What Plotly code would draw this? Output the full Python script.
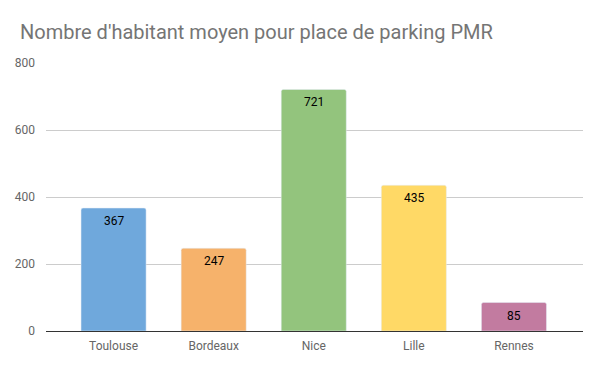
import plotly.graph_objects as go

cities = ["Toulouse", "Bordeaux", "Nice", "Lille", "Rennes"]
values = [367, 247, 721, 435, 85]
colors = ["#6fa8dc", "#f6b26b", "#93c47d", "#ffd966", "#c27ba0"]
y_ticks = [0, 200, 400, 600, 800]

fig = go.Figure(go.Bar(
    x=cities, y=values, marker_color=colors, width=0.65,
    hoverinfo="x+y",
))
for c, v in zip(cities, values):
    fig.add_annotation(x=c, y=v, text=str(v), showarrow=False, yanchor="top",
                       yshift=-4, font=dict(color="#000000", size=12, family="Roboto"))
fig.update_layout(
    width=600, height=371,
    margin=dict(l=46, r=17, t=63, b=40),
    paper_bgcolor="white", plot_bgcolor="white",
    font=dict(family="Roboto", color="#666666", size=12),
    title=dict(text="Nombre d'habitant moyen pour place de parking PMR",
               x=20/600, xanchor="left", y=1-32/371, yanchor="middle",
               font=dict(size=20, color="#757575", family="Roboto")),
    showlegend=False,
    barcornerradius=2,
    xaxis=dict(range=[-0.675, 4.69], showgrid=False, ticks="", showline=False,
               ticklabelstandoff=6, tickfont=dict(size=12, color="#666666")),
    yaxis=dict(range=[0, 800], tickvals=y_ticks, showgrid=True, gridcolor="#cccccc",
               zeroline=True, zerolinecolor="#333333", zerolinewidth=1.2,
               ticks="", ticklabelstandoff=10, tickfont=dict(size=12, color="#666666")),
)
fig.write_html("out.html", config={"displayModeBar": False},
               post_script="document.body.style.margin='0';document.body.style.padding='0';")
